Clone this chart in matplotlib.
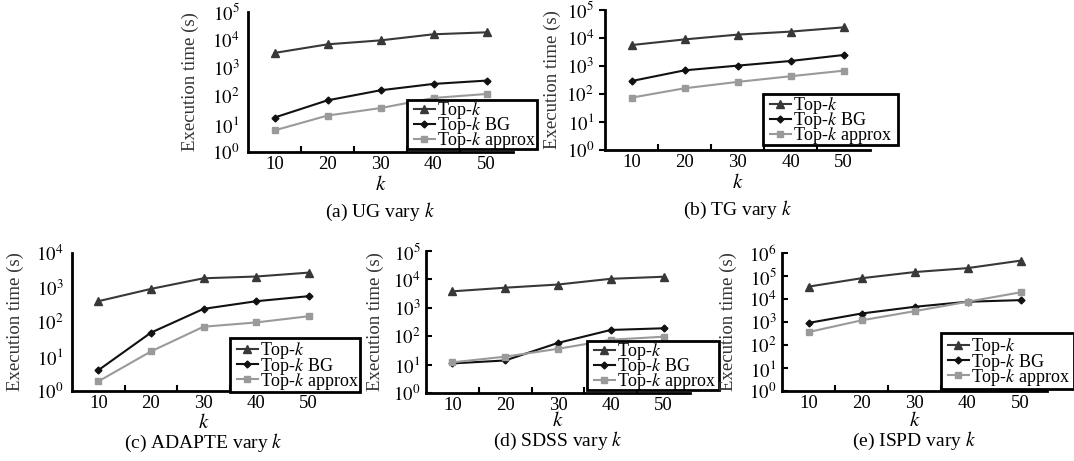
import matplotlib
matplotlib.use("Agg")
import matplotlib.pyplot as plt
from matplotlib.ticker import FixedLocator, NullFormatter
from matplotlib.patches import Rectangle
from matplotlib.transforms import Bbox, TransformedBbox

plt.rcParams['font.family'] = ['Liberation Serif', 'DejaVu Serif']
plt.rcParams['mathtext.fontset'] = 'stix'

k_values = [10, 20, 30, 40, 50]
series_names = [r'Top-$k$', r'Top-$k$ BG', r'Top-$k$ approx']

ug_topk = [3450, 7000, 9700, 16000, 18800]
ug_bg = [17, 70, 160, 270, 355]
ug_approx = [5.9, 20, 37, 85, 118]

tg_topk = [5600, 8900, 13200, 16900, 24000]
tg_bg = [290, 700, 1030, 1510, 2470]
tg_approx = [74, 160, 270, 430, 680]

adapte_topk = [400, 910, 1850, 2080, 2700]
adapte_bg = [4.0, 49, 240, 400, 560]
adapte_approx = [1.9, 14, 73, 97, 147]

sdss_topk = [3800, 5100, 6600, 10500, 12400]
sdss_bg = [11, 14, 58, 166, 190]
sdss_approx = [12, 19, 36, 75, 96]

ispd_topk = [34500, 80000, 148000, 220000, 465000]
ispd_bg = [910, 2340, 4570, 7590, 8930]
ispd_approx = [365, 1180, 2950, 7590, 19500]

captions = [r'(a) UG vary $k$', r'(b) TG vary $k$', r'(c) ADAPTE vary $k$',
            r'(d) SDSS vary $k$', r'(e) ISPD vary $k$']
y_max_exp = [5, 5, 4, 5, 6]

W, H = 1074, 461
fig = plt.figure(figsize=(W / 100, H / 100), dpi=100)

# pixel boxes: left, right, top, bottom
boxes = [(248, 513, 12, 152), (605, 870, 10, 150), (72, 335, 253, 391),
         (426, 690, 251, 393), (782, 1047, 253, 391)]
# legend frames: left, right, top, bottom (pixels)
legend_boxes = [(407, 537, 100, 149), (763, 898, 94, 145), (230, 360, 338, 392),
                (587, 719, 341, 390), (941, 1074, 333, 389)]
ylabel_x = [190, 552, 15, 375, 728]
klabel_y = [185, 183, 423, 422, 422]
caption_y = [212, 210, 443, 441, 441]
ytick_dir = [None, 'out', None, 'in', 'in']

data = [
    (ug_topk, ug_bg, ug_approx),
    (tg_topk, tg_bg, tg_approx),
    (adapte_topk, adapte_bg, adapte_approx),
    (sdss_topk, sdss_bg, sdss_approx),
    (ispd_topk, ispd_bg, ispd_approx),
]

styles = [
    dict(color='#383838', marker='^', markersize=5.5),
    dict(color='#111111', marker='D', markersize=3.5),
    dict(color='#9a9a9a', marker='s', markersize=5),
]

for i, (l, r, t, b) in enumerate(boxes):
    ax = fig.add_axes([l / W, 1 - b / H, (r - l) / W, (b - t) / H])
    for vals, name, st in zip(data[i], series_names, styles):
        ax.plot(k_values, vals, label=name, linewidth=1.5, **st)
    ax.set_yscale('log')
    ax.set_ylim(1, 10 ** y_max_exp[i])
    ax.set_xlim(5, 55)
    ax.yaxis.set_major_locator(FixedLocator([10 ** e for e in range(y_max_exp[i] + 1)]))
    ax.yaxis.set_minor_locator(FixedLocator([]))
    ax.set_yticklabels([r'$10^{%d}$' % e for e in range(y_max_exp[i] + 1)])
    ax.set_xticks(k_values)
    ax.set_xticklabels([str(v) for v in k_values])
    ax.xaxis.set_minor_locator(FixedLocator([15, 25, 35, 45]))
    ax.xaxis.set_minor_formatter(NullFormatter())
    ax.tick_params(axis='x', which='major', length=0, labelsize=13.5, pad=3)
    ax.tick_params(axis='x', which='minor', length=4, width=1.5, direction='in')
    if ytick_dir[i] is None:
        ax.tick_params(axis='y', which='major', length=0, labelsize=13.5, pad=6)
    else:
        ax.tick_params(axis='y', which='major', length=4, width=1.5,
                       direction=ytick_dir[i], labelsize=13.5, pad=4)
    for s in ['top', 'right']:
        ax.spines[s].set_visible(False)
    for s in ['left', 'bottom']:
        ax.spines[s].set_linewidth(2)
        ax.spines[s].set_color('black')
    ax.set_ylabel('Execution time (s)', fontsize=13.5, color='#333333',
                  va='center')
    ax.yaxis.set_label_coords((ylabel_x[i] - l) / (r - l), 0.5)

    # legend frame drawn as a figure-coordinate rectangle
    x0, x1, y0, y1 = legend_boxes[i]
    rect = Rectangle((x0 / W, 1 - y1 / H), (x1 - x0) / W, (y1 - y0) / H,
                     transform=fig.transFigure, facecolor='white',
                     edgecolor='black', linewidth=2, zorder=4, clip_on=False)
    ax.add_artist(rect)
    leg = ax.legend(loc='center left',
                    bbox_to_anchor=((x0 + 7) / W, 1 - ((y0 + y1) / 2 + 1) / H),
                    bbox_transform=fig.transFigure, borderaxespad=0,
                    borderpad=0, fontsize=13, frameon=False,
                    handlelength=1.15, handletextpad=0.1, labelspacing=-0.33)
    leg.set_zorder(5)
    clip = TransformedBbox(Bbox.from_extents(x0 / W, 0, (x1 - 1) / W, 1),
                           fig.transFigure)
    for txt in leg.get_texts():
        txt.set_clip_box(clip)
        txt.set_clip_on(True)

    cx = (l + r) / 2 / W
    fig.text(cx, 1 - klabel_y[i] / H, r'$k$', ha='center', va='center', fontsize=15)
    fig.text(cx, 1 - caption_y[i] / H, captions[i], ha='center', va='center', fontsize=14)

fig.savefig('out.png', dpi=100, facecolor='white')
